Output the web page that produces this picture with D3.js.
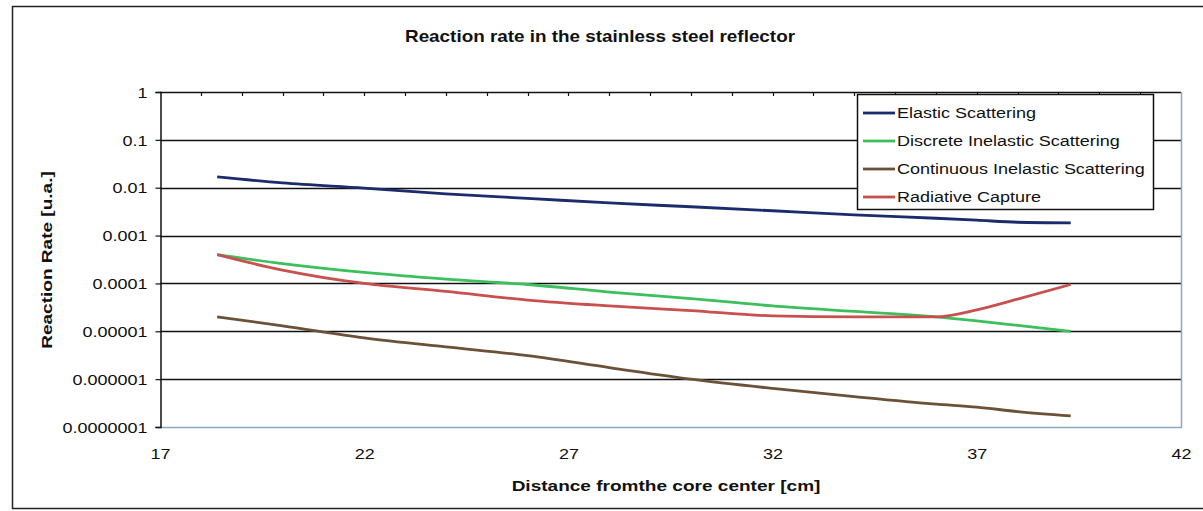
<!DOCTYPE html>
<html><head><meta charset="utf-8">
<script src="https://cdn.jsdelivr.net/npm/d3@7"></script>
<style>html,body{margin:0;padding:0;background:#fff;}svg{display:block;font-family:"Liberation Sans",Arial,sans-serif;}</style>
</head><body>
<svg id="c" width="1203" height="511"></svg>
<script>
const distances = [18.4, 20, 22, 24, 26, 28, 30, 32, 34, 36, 37, 38, 39.3];
const elastic    = [0.0168, 0.0126, 0.0098, 0.0074, 0.0060, 0.0048, 0.0040, 0.0033, 0.0027, 0.0023, 0.0021, 0.0019, 0.00185];
const discrete   = [0.0004, 0.00026, 0.00017, 0.000123, 0.000095, 0.000066, 0.000048, 0.000034, 0.000026, 0.0000200, 0.0000165, 0.0000133, 0.0000100];
const continuous = [0.00002, 0.000013, 0.0000073, 0.0000047, 0.0000031, 0.00000175, 0.000001, 0.00000064, 0.00000043, 0.0000003, 0.00000026, 0.00000021, 0.00000017];
const radiative  = [0.0004, 0.00019, 0.0001, 0.000068, 0.000045, 0.000034, 0.000027, 0.000021, 0.0000200, 0.0000200, 0.000028, 0.000047, 0.000095];
const seriesNames = ["Elastic Scattering", "Discrete Inelastic Scattering", "Continuous Inelastic Scattering", "Radiative Capture"];
const seriesColors = ["#1c2b6b", "#3cbf5c", "#6b5237", "#c8504f"];
const yTickValues = [1, 0.1, 0.01, 0.001, 0.0001, 0.00001, 0.000001, 0.0000001];
const yTickLabels = ["1", "0.1", "0.01", "0.001", "0.0001", "0.00001", "0.000001", "0.0000001"];
const xTickValues = [17, 22, 27, 32, 37, 42];
const title = "Reaction rate in the stainless steel reflector";
const xTitle = "Distance fromthe core center [cm]";
const yTitle = "Reaction Rate [u.a.]";

const svg = d3.select("#c");
const L = 160, R = 1181, T = 92, B = 427, SX = 1.2;
const x = d3.scaleLinear().domain([17, 42]).range([L, R]);
const y = d3.scaleLog().domain([1e-7, 1]).range([B, T]);

// outer border
svg.append("rect").attr("x", 12.5).attr("y", 6.5).attr("width", 1200).attr("height", 502)
  .attr("fill", "#fff").attr("stroke", "#222").attr("stroke-width", 1.5);

function stext(g, tx, ty, str, opts) {
  const t = g.append("g").attr("transform", `translate(${tx},${ty}) scale(${opts.sx || SX},1)`)
    .append("text").text(str).attr("font-size", opts.size || 15)
    .attr("text-anchor", opts.anchor || "start").attr("fill", "#111");
  if (opts.bold) t.attr("font-weight", "bold");
  if (opts.dy) t.attr("dy", opts.dy);
  return t;
}

// title
stext(svg, 600, 42, title, {anchor: "middle", bold: true, size: 16, sx: 1.18});

// gridlines
svg.append("g").selectAll("line").data(yTickValues).join("line")
  .attr("x1", L).attr("x2", R).attr("y1", d => Math.round(y(d)) + 0.5).attr("y2", d => Math.round(y(d)) + 0.5)
  .attr("stroke", d => d === 1e-7 ? "none" : "#111").attr("stroke-width", 1.5);

// plot border bottom/right
svg.append("path").attr("d", `M${L},${B + 0.5}H${R + 0.5}V${T}`).attr("fill", "none")
  .attr("stroke", "#8aaabb").attr("stroke-width", 1.5);

// top minor ticks
const topTicks = d3.range(18, 42);
svg.append("g").selectAll("line").data(topTicks).join("line")
  .attr("x1", d => Math.round(x(d)) + 0.5).attr("x2", d => Math.round(x(d)) + 0.5)
  .attr("y1", T).attr("y2", T + 4).attr("stroke", "#111").attr("stroke-width", 1.2);

// left axis
const yAxis = d3.axisLeft(y).tickValues(yTickValues).tickFormat((d, i) => yTickLabels[i]).tickSize(5).tickPadding(8);
const ya = svg.append("g").attr("transform", `translate(${L + 0.5},0)`).call(yAxis);
ya.select(".domain").attr("stroke", "#111").attr("stroke-width", 1.5);
ya.selectAll(".tick line").attr("stroke", "#111").attr("stroke-width", 1.2);
ya.selectAll(".tick text").each(function(d) {
  const tk = d3.select(this.parentNode);
  d3.select(this).remove();
  stext(tk, -13, 0, yTickLabels[yTickValues.indexOf(d)], {anchor: "end", dy: "0.35em"});
});

// bottom labels
const xAxis = d3.axisBottom(x).tickValues(xTickValues).tickSize(0).tickPadding(0);
const xa = svg.append("g").attr("transform", `translate(0,${B})`).call(xAxis);
xa.select(".domain").remove();
xa.selectAll(".tick text").each(function(d) {
  const tk = d3.select(this.parentNode);
  d3.select(this).remove();
  stext(tk, 0, 32, String(d), {anchor: "middle"});
});

// axis titles
stext(svg, 666, 491, xTitle, {anchor: "middle", bold: true, size: 15, sx: 1.27});
svg.append("g").attr("transform", `translate(52,260) rotate(-90) scale(1.27,1)`)
  .append("text").text(yTitle).attr("text-anchor", "middle").attr("font-weight", "bold")
  .attr("font-size", 15).attr("fill", "#111");

// series
const allSeries = [elastic, discrete, continuous, radiative];
const line = d3.line().x(d => x(d[0])).y(d => y(d[1])).curve(d3.curveMonotoneX);
allSeries.forEach((vals, i) => {
  svg.append("path").datum(distances.map((dx, j) => [dx, vals[j]]))
    .attr("d", line).attr("fill", "none").attr("stroke", seriesColors[i])
    .attr("stroke-width", 2.8).attr("stroke-linejoin", "round");
});

// legend
const lg = svg.append("g");
lg.append("rect").attr("x", 857.5).attr("y", 94.5).attr("width", 296).attr("height", 115)
  .attr("fill", "#fff").attr("stroke", "#111").attr("stroke-width", 1.5);
seriesNames.forEach((n, i) => {
  const cy = 113 + i * 28;
  lg.append("line").attr("x1", 863).attr("x2", 895).attr("y1", cy).attr("y2", cy)
    .attr("stroke", seriesColors[i]).attr("stroke-width", 2.8);
  stext(lg, 897, cy, n, {dy: "0.35em"});
});
</script>
</body></html>
